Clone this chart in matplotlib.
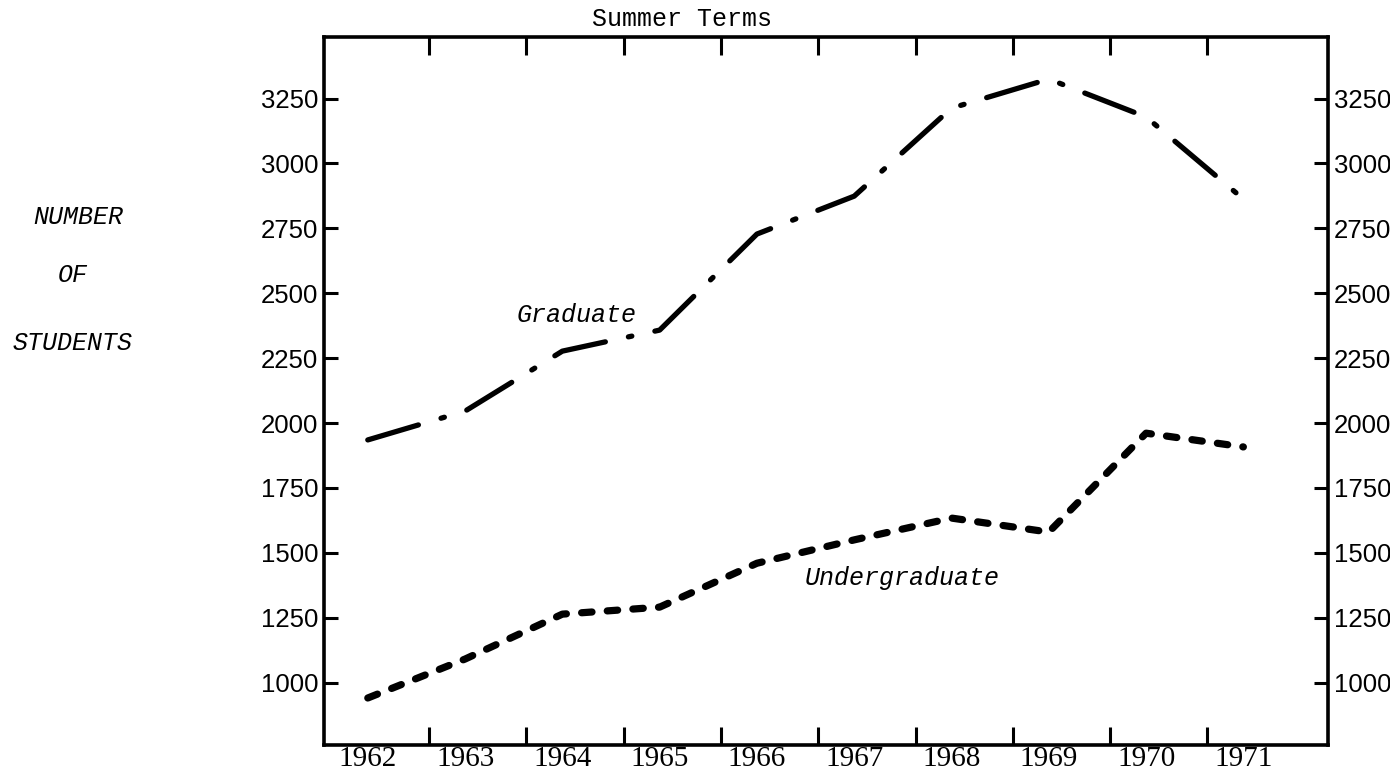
import matplotlib
matplotlib.use('Agg')
import matplotlib.pyplot as plt

plt.rcParams['lines.scale_dashes'] = False

years = [1962, 1963, 1964, 1965, 1966, 1967, 1968, 1969, 1970, 1971]
graduate = [1935, 2046, 2277, 2358, 2728, 2874, 3213, 3325, 3179, 2863]
undergraduate = [941, 1091, 1264, 1291, 1460, 1550, 1634, 1580, 1961, 1908]
y_ticks = [1000, 1250, 1500, 1750, 2000, 2250, 2500, 2750, 3000, 3250]

fig = plt.figure(figsize=(13.9, 7.77), dpi=100)
ax = fig.add_axes([0.2331, 0.0412, 0.7223, 0.9112])

ax.plot(years, graduate, color='black', lw=3.8, dash_capstyle='round',
        linestyle=(0, (38, 17, 2.5, 17)))
ax.plot(years, undergraduate, color='black', lw=5.2, dash_capstyle='round',
        linestyle=(0, (7.5, 11)))

ax.set_xlim(1961.55, 1971.87)
ax.set_ylim(760, 3487)

# year labels sit under the points, tick marks between the years
ax.set_xticks(years)
ax.set_xticklabels([str(y) for y in years], family='Liberation Serif', fontsize=21)
ax.set_xticks([y + 0.63 for y in years[:-1]], minor=True)
ax.tick_params(axis='x', which='major', length=0, pad=1)
ax.tick_params(axis='x', which='minor', direction='in', length=13, width=2.2,
               top=True, bottom=True)

ax.set_yticks(y_ticks)
ax.set_yticklabels([str(v) for v in y_ticks], family='Liberation Sans', fontsize=18.5)
ax.tick_params(axis='y', direction='in', length=10, width=2.2, left=True, right=True,
               labelleft=True, labelright=True, pad=4)

for s in ax.spines.values():
    s.set_linewidth(2.6)

fig.text(682 / 1390, 1 - 19 / 777, 'Summer Terms', family='Liberation Mono',
         fontsize=18, ha='center', va='center')

for txt, x, y in [('NUMBER', 78, 217), ('OF', 73, 275), ('STUDENTS', 73, 343)]:
    fig.text(x / 1390, 1 - y / 777, txt, family='Liberation Mono', style='italic',
             fontsize=18, ha='center', va='center')

ax.text(1963.53, 2416, 'Graduate', family='Liberation Mono', style='italic',
        fontsize=18, ha='left', va='center')
ax.text(1966.49, 1405, 'Undergraduate', family='Liberation Mono', style='italic',
        fontsize=18, ha='left', va='center')

fig.savefig('out.png', dpi=100)
